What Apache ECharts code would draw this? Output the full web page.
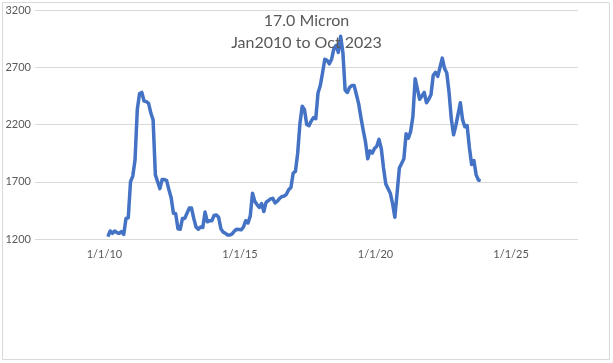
<!DOCTYPE html>
<html>
<head>
<meta charset="utf-8">
<script src="https://cdn.jsdelivr.net/npm/echarts@6/dist/echarts.min.js"></script>
<style>
  html, body { margin: 0; padding: 0; background: #fff; }
  #chart { width: 613px; height: 363px; }
</style>
</head>
<body>
<div id="chart"></div>
<script>
// Monthly prices, Jan 2010 .. Oct 2023
const startYear = 2010;
const startMonth = 0; // January
const prices = [
  1220,1270,1250,1270,1255,1250,1265,1240,1380,1385,1700,1750,
  1890,2330,2470,2480,2405,2400,2385,2300,2240,1760,1700,1640,
  1720,1720,1710,1630,1560,1425,1420,1290,1285,1380,1380,1425,
  1470,1470,1380,1305,1285,1305,1300,1435,1350,1360,1360,1405,
  1410,1390,1290,1260,1250,1235,1235,1245,1270,1285,1283,1280,
  1305,1360,1340,1400,1600,1530,1500,1475,1510,1440,1520,1535,
  1550,1555,1515,1530,1555,1570,1575,1590,1630,1650,1775,1790,
  1950,2210,2360,2330,2200,2190,2230,2260,2250,2475,2540,2650,
  2770,2760,2730,2770,2860,2890,2830,2970,2830,2500,2480,2525,
  2540,2540,2460,2380,2260,2150,2050,1900,1970,1950,1990,2010,
  2070,1990,1820,1680,1640,1600,1510,1390,1600,1820,1860,1900,
  2120,2080,2140,2270,2600,2510,2420,2450,2480,2390,2420,2460,
  2630,2655,2620,2700,2780,2690,2650,2480,2250,2110,2190,2290,
  2390,2240,2180,2190,2000,1850,1885,1760,1715,1710
];
const xTickYears = [2010, 2015, 2020, 2025];
const yTicks = [1200, 1700, 2200, 2700, 3200];
const titleLines = ['17.0 Micron', 'Jan2010 to Oct 2023'];

// x position as fractional year (month i -> year + i/12)
const seriesData = prices.map((v, i) => [startYear + (startMonth + i) / 12, v]);

const chart = echarts.init(document.getElementById('chart'), null, { renderer: 'canvas' });
const textColor = '#595959';
const font = 'Lato, "Open Sans", sans-serif';

chart.setOption({
  animation: false,
  backgroundColor: '#ffffff',
  title: {
    text: titleLines.join('\n'),
    left: 'center',
    top: 5,
    textStyle: { color: textColor, fontFamily: font, fontSize: 16, fontWeight: 'normal', lineHeight: 22 }
  },
  graphic: [{
    type: 'rect',
    shape: { x: 2.5, y: 2.5, width: 607, height: 357 },
    style: { fill: 'none', stroke: '#d9d9d9', lineWidth: 1 },
    silent: true,
    z: -1
  }],
  grid: { left: 35, right: 35, top: 10, bottom: 124, containLabel: false },
  xAxis: {
    type: 'value',
    min: 2007.31,
    max: 2027.34,
    axisLine: { show: false },
    axisTick: { show: false },
    splitLine: { show: false },
    axisLabel: {
      customValues: xTickYears,
      color: textColor,
      fontFamily: font,
      fontSize: 11,
      margin: 10,
      padding: [0, 7, 0, 0],
      formatter: function (val) {
        return '1/1/' + String(Math.round(val)).slice(2);
      }
    }
  },
  yAxis: {
    type: 'value',
    min: yTicks[0],
    max: yTicks[yTicks.length - 1],
    interval: 500,
    axisLine: { show: false },
    axisTick: { show: false },
    splitLine: { lineStyle: { color: '#d9d9d9', width: 1 } },
    axisLabel: {
      color: textColor, fontFamily: font, fontSize: 11, margin: 4,
      formatter: function (val) { return String(val); }
    }
  },
  series: [{
    type: 'line',
    data: seriesData,
    showSymbol: false,
    lineStyle: { color: '#4472C4', width: 3.5, join: 'round' },
    itemStyle: { color: '#4472C4' }
  }]
});
</script>
</body>
</html>
